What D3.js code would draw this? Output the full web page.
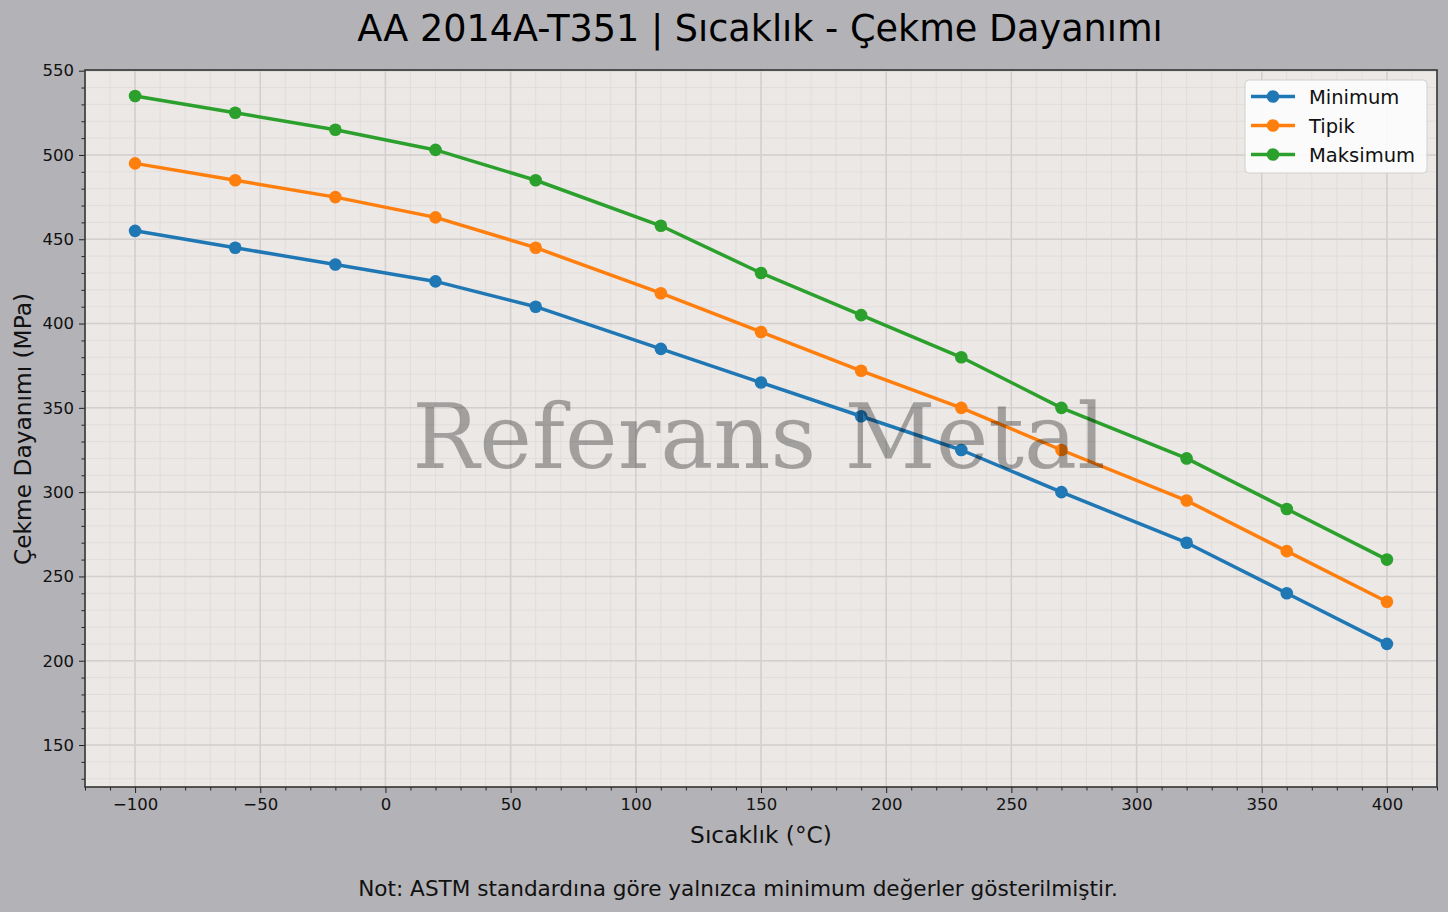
<!DOCTYPE html>
<html>
<head>
<meta charset="utf-8">
<script src="https://cdnjs.cloudflare.com/ajax/libs/d3/7.8.5/d3.min.js"></script>
<style>
  html, body { margin: 0; padding: 0; background: #b3b2b7; }
  svg { display: block; font-family: "DejaVu Sans", sans-serif; }
</style>
</head>
<body>
<div id="chart-area"></div>
<script>
// data
var temperatures = [-100, -60, -20, 20, 60, 110, 150, 190, 230, 270, 320, 360, 400];
var minValues = [455, 445, 435, 425, 410, 385, 365, 345, 325, 300, 270, 240, 210];
var typValues = [495, 485, 475, 463, 445, 418, 395, 372, 350, 325, 295, 265, 235];
var maxValues = [535, 525, 515, 503, 485, 458, 430, 405, 380, 350, 320, 290, 260];
var seriesNames = ["Minimum", "Tipik", "Maksimum"];
var seriesColors = ["#1f77b4", "#ff7f0e", "#2ca02c"];
var xTicks = [-100, -50, 0, 50, 100, 150, 200, 250, 300, 350, 400];
var yTicks = [150, 200, 250, 300, 350, 400, 450, 500, 550];

var titleText = "AA 2014A-T351 | Sıcaklık - Çekme Dayanımı";
var xLabel = "Sıcaklık (°C)";
var yLabel = "Çekme Dayanımı (MPa)";
var noteText = "Not: ASTM standardına göre yalnızca minimum değerler gösterilmiştir.";
var watermark = "Referans Metal";

var W = 1448, H = 912;
var margins = { left: 85, right: 11, top: 70, bottom: 125 };
var width = W - margins.left - margins.right;
var height = H - margins.top - margins.bottom;

var svg = d3.select("#chart-area").append("svg")
    .attr("width", W)
    .attr("height", H);

svg.append("rect").attr("width", W).attr("height", H).attr("fill", "#b3b2b7");

var g = svg.append("g")
    .attr("transform", "translate(" + margins.left + "," + margins.top + ")");

var x = d3.scaleLinear().domain([-120, 420]).range([0, width]);
var y = d3.scaleLinear().domain([125.1, 550.4]).range([height, 0]);

// plot background
g.append("rect").attr("width", width).attr("height", height).attr("fill", "#ebe8e6");

// minor grid every 10 units
var xMinor = d3.range(-120, 421, 10);
var yMinor = d3.range(130, 551, 10);
g.append("g").selectAll("line").data(xMinor).enter().append("line")
    .attr("x1", function(d) { return x(d); }).attr("x2", function(d) { return x(d); })
    .attr("y1", 0).attr("y2", height)
    .attr("stroke", "#dedad9").attr("stroke-width", 0.8);
g.append("g").selectAll("line").data(yMinor).enter().append("line")
    .attr("y1", function(d) { return y(d); }).attr("y2", function(d) { return y(d); })
    .attr("x1", 0).attr("x2", width)
    .attr("stroke", "#dedad9").attr("stroke-width", 0.8);

// major grid
g.append("g").selectAll("line").data(xTicks).enter().append("line")
    .attr("x1", function(d) { return x(d); }).attr("x2", function(d) { return x(d); })
    .attr("y1", 0).attr("y2", height)
    .attr("stroke", "#d3cfce").attr("stroke-width", 1.5);
g.append("g").selectAll("line").data(yTicks).enter().append("line")
    .attr("y1", function(d) { return y(d); }).attr("y2", function(d) { return y(d); })
    .attr("x1", 0).attr("x2", width)
    .attr("stroke", "#d3cfce").attr("stroke-width", 1.5);

// series
var allSeries = [minValues, typValues, maxValues];
var line = d3.line()
    .x(function(d, i) { return x(temperatures[i]); })
    .y(function(d) { return y(d); });

allSeries.forEach(function(vals, k) {
  g.append("path")
    .datum(vals)
    .attr("fill", "none")
    .attr("stroke", seriesColors[k])
    .attr("stroke-width", 3.5)
    .attr("stroke-linejoin", "round")
    .attr("d", line);
  g.append("g").selectAll("circle").data(vals).enter().append("circle")
    .attr("cx", function(d, i) { return x(temperatures[i]); })
    .attr("cy", function(d) { return y(d); })
    .attr("r", 6.3)
    .attr("fill", seriesColors[k]);
});

// watermark on top of the lines
g.append("text")
    .attr("x", width / 2 - 2)
    .attr("y", 398)
    .attr("text-anchor", "middle")
    .attr("font-family", "DejaVu Serif, serif")
    .attr("font-size", 89)
    .attr("fill", "#000")
    .attr("fill-opacity", 0.31)
    .text(watermark);

// axes
var xAxis = d3.axisBottom(x).tickValues(xTicks).tickSize(6).tickPadding(5)
    .tickFormat(function(d) { return d < 0 ? "\u2212" + Math.abs(d) : d; });
g.append("g").attr("transform", "translate(0," + height + ")").call(xAxis);
var xMinorAxis = d3.axisBottom(x).tickValues(xMinor.filter(function(d) { return d % 50 !== 0; }))
    .tickSize(3.5).tickFormat("");
g.append("g").attr("transform", "translate(0," + height + ")").call(xMinorAxis);

var yAxis = d3.axisLeft(y).tickValues(yTicks).tickSize(6).tickPadding(5);
g.append("g").call(yAxis);
var yMinorAxis = d3.axisLeft(y).tickValues(yMinor.filter(function(d) { return d % 50 !== 0; }))
    .tickSize(3.5).tickFormat("");
g.append("g").call(yMinorAxis);

g.selectAll(".domain").remove();
g.selectAll(".tick line").attr("stroke", "#222").attr("stroke-width", 1);
g.selectAll(".tick text")
    .attr("font-family", "DejaVu Sans, sans-serif")
    .attr("font-size", 16.5)
    .attr("fill", "#111");

// spines
g.append("rect").attr("width", width).attr("height", height)
    .attr("fill", "none").attr("stroke", "#333").attr("stroke-width", 1.6);

// legend
var legend = svg.append("g").attr("transform", "translate(1245,80)");
legend.append("rect")
    .attr("width", 182).attr("height", 93).attr("rx", 4)
    .attr("fill", "#fdfdfd").attr("fill-opacity", 0.9)
    .attr("stroke", "#d0d0d0").attr("stroke-width", 1);
seriesNames.forEach(function(name, k) {
  var ly = 16.5 + k * 29;
  legend.append("line")
    .attr("x1", 6).attr("x2", 50).attr("y1", ly).attr("y2", ly)
    .attr("stroke", seriesColors[k]).attr("stroke-width", 3.5);
  legend.append("circle").attr("cx", 28).attr("cy", ly).attr("r", 6.3).attr("fill", seriesColors[k]);
  legend.append("text")
    .attr("x", 64).attr("y", ly + 7)
    .attr("font-size", 19.5).attr("fill", "#111")
    .text(name);
});

// titles
svg.append("text")
    .attr("x", 760).attr("y", 41)
    .attr("text-anchor", "middle")
    .attr("font-size", 36.6).attr("fill", "#000")
    .text(titleText);

svg.append("text")
    .attr("x", 761).attr("y", 843)
    .attr("text-anchor", "middle")
    .attr("font-size", 23.3).attr("fill", "#111")
    .text(xLabel);

svg.append("text")
    .attr("transform", "translate(31,429) rotate(-90)")
    .attr("text-anchor", "middle")
    .attr("font-size", 23.3).attr("fill", "#111")
    .text(yLabel);

svg.append("text")
    .attr("x", 738).attr("y", 896)
    .attr("text-anchor", "middle")
    .attr("font-size", 21.6).attr("fill", "#111")
    .text(noteText);
</script>
</body>
</html>
